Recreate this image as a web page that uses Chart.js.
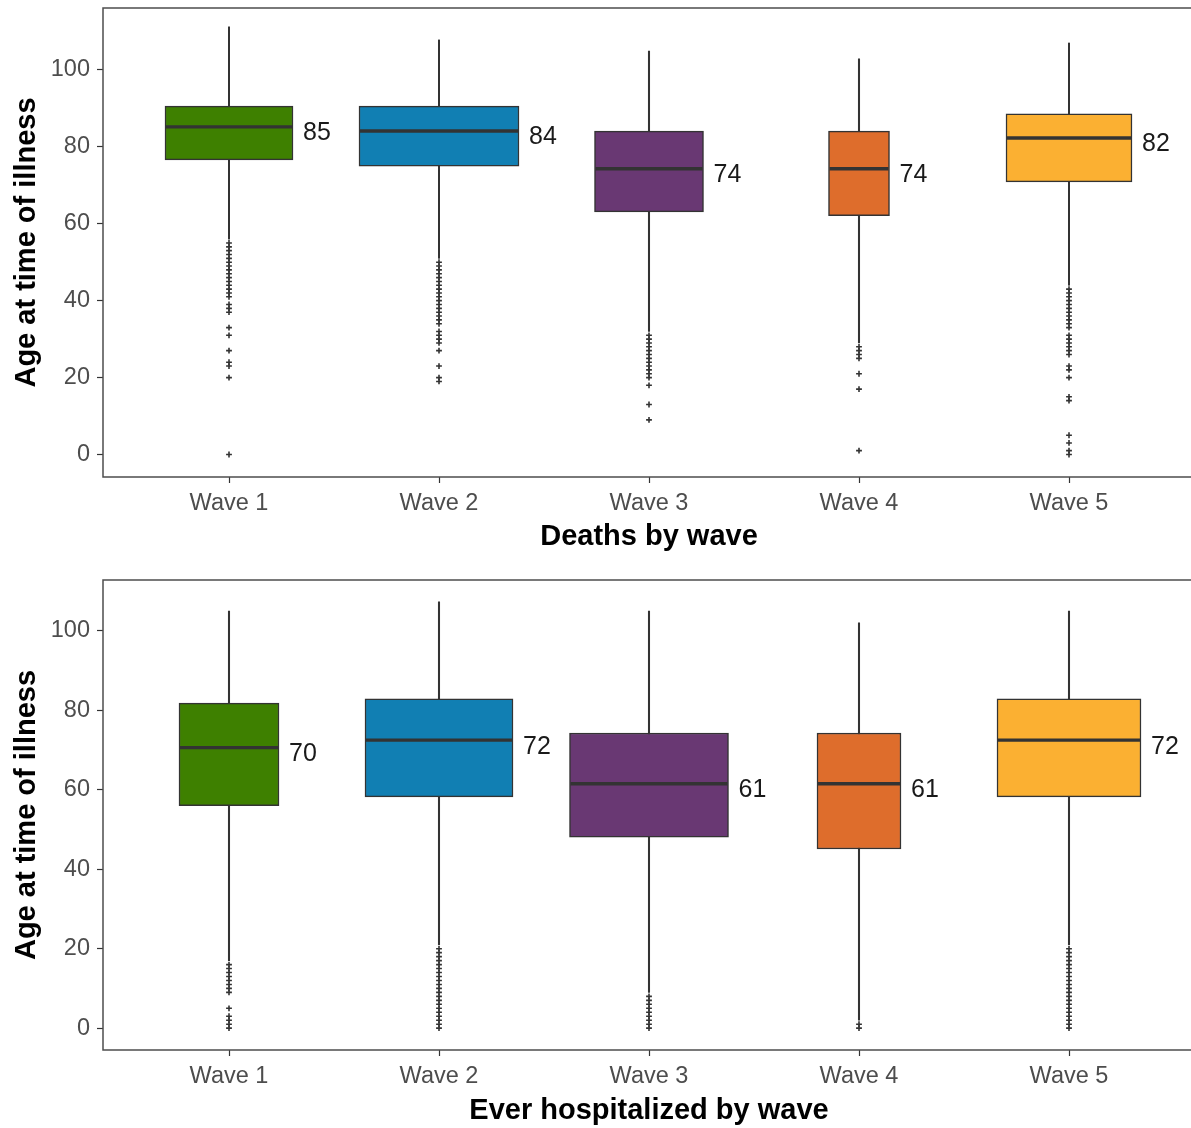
<!DOCTYPE html>
<html><head><meta charset="utf-8">
<script src="https://cdn.jsdelivr.net/npm/chart.js@4.4.1/dist/chart.umd.min.js"></script>
<style>
html,body{margin:0;padding:0;background:#fff;overflow:hidden;width:1191px;height:1128px;position:relative;}
canvas{position:absolute;left:0;}
#c1{top:0;}
#c2{top:572px;}
</style></head><body>
<canvas id="c1" width="1210" height="565" style="width:1210px;height:565px"></canvas>
<canvas id="c2" width="1210" height="558" style="width:1210px;height:558px"></canvas>
<script>
// ---------- data ----------
const waves = ['Wave 1', 'Wave 2', 'Wave 3', 'Wave 4', 'Wave 5'];
const wavePositions = [1, 2, 3, 4, 5];
const yTickValues = [0, 20, 40, 60, 80, 100];

// Deaths by wave
const deathsWhiskerLow  = [56, 51, 32, 29, 44];
const deathsQ1          = [76.6, 75.0, 63.1, 62.1, 70.9];
const deathsMedian      = [85.2, 84.1, 74.3, 74.3, 82.3];
const deathsQ3          = [90.6, 90.6, 84.1, 84.1, 88.6];
const deathsWhiskerHigh = [111.2, 107.8, 104.9, 102.9, 107.0];
const deathsMedianLabels = ['85', '84', '74', '74', '82'];
const deathsOutliers = [
  [55,54,53,52,51,50,49,48,47,46,45,44,43,42,41,39,38,37,33,31,27,24,23,20,0],
  [50,49,48,47,46,45,44,43,42,41,40,39,38,37,36,35,34,32,31,30,29,27,23,20,19],
  [31,30,29,28,27,26,25,24,23,22,21,20,18,13,9],
  [28,27,26,25,21,17,1],
  [43,42,41,40,39,38,37,36,35,34,33,31,30,29,28,27,26,23,22,20,15,14,5,3,1,0]
];

// Ever hospitalized by wave
const hospWhiskerLow  = [17, 21, 9, 2, 21];
const hospQ1          = [56.0, 58.2, 48.1, 45.1, 58.2];
const hospMedian      = [70.6, 72.5, 61.5, 61.5, 72.5];
const hospQ3          = [81.8, 82.9, 74.3, 74.3, 82.9];
const hospWhiskerHigh = [105.0, 107.3, 105.0, 102.0, 105.0];
const hospMedianLabels = ['70', '72', '61', '61', '72'];
const hospOutliers = [
  [16,15,14,13,12,11,10,9,5,3,2,1,0],
  [20,19,18,17,16,15,14,13,12,11,10,9,8,7,6,5,4,3,2,1,0],
  [8,7,6,5,4,3,2,1,0],
  [1,0],
  [20,19,18,17,16,15,14,13,12,11,10,9,8,7,6,5,4,3,2,1,0]
];

// ---------- style ----------
const waveColors = ['#3E8000', '#117FB3', '#693873', '#DE6D2C', '#FBB032'];
const deathsBoxPx = [128, 160, 109, 61, 126];
const hospBoxPx   = [100, 148, 159, 84, 144];
const FONT = '"Liberation Sans", Arial, sans-serif';
const INK = '#333333';

const panelBorder = {
  id: 'panelBorder',
  afterDatasetsDraw(chart) {
    const a = chart.chartArea, ctx = chart.ctx;
    ctx.save();
    ctx.strokeStyle = '#4d4d4d';
    ctx.lineWidth = 1.5;
    ctx.strokeRect(a.left, a.top, a.right - a.left, a.bottom - a.top);
    ctx.restore();
  }
};

function medianLabelPlugin(medians, labels, widths) {
  return {
    id: 'medianLabels',
    afterDatasetsDraw(chart) {
      const ctx = chart.ctx, xs = chart.scales.x, ys = chart.scales.y;
      ctx.save();
      ctx.font = '25px ' + FONT;
      ctx.fillStyle = '#1a1a1a';
      ctx.textAlign = 'left';
      ctx.textBaseline = 'middle';
      medians.forEach((m, i) => {
        const x = xs.getPixelForValue(wavePositions[i]) + widths[i] / 2 + 10;
        const y = ys.getPixelForValue(m) + 6.5;
        ctx.fillText(labels[i], x, y);
      });
      ctx.restore();
    }
  };
}

function makeChart(canvasId, o) {
  const datasets = [];
  datasets.push({
    type: 'bar',
    data: wavePositions.map((x, i) => ({ x, y: [o.low[i], o.high[i]] })),
    backgroundColor: INK,
    borderWidth: 0,
    barThickness: 1.4,
    grouped: false,
    order: 10
  });
  wavePositions.forEach((x, i) => {
    datasets.push({
      type: 'bar',
      data: [{ x, y: [o.q1[i], o.q3[i]] }],
      backgroundColor: waveColors[i],
      borderColor: INK,
      borderWidth: 1.5,
      borderSkipped: false,
      barThickness: o.widths[i],
      grouped: false,
      order: 5
    });
  });
  datasets.push({
    type: 'scatter',
    data: wavePositions.map((x, i) => ({ x, y: o.median[i] })),
    pointStyle: 'line',
    pointRadius: (c) => o.widths[c.dataIndex] / 2 - 1,
    pointBorderColor: INK,
    pointBorderWidth: 3.4,
    order: 2
  });
  const outPts = [];
  o.outliers.forEach((arr, i) => arr.forEach(v => outPts.push({ x: wavePositions[i], y: v })));
  datasets.push({
    type: 'scatter',
    data: outPts,
    pointStyle: 'cross',
    pointRadius: 2.9,
    pointBorderWidth: 1.6,
    pointBorderColor: INK,
    order: 1
  });

  return new Chart(document.getElementById(canvasId), {
    type: 'bar',
    data: { datasets },
    options: {
      responsive: false,
      animation: false,
      devicePixelRatio: 1,
      events: [],
      layout: { autoPadding: false, padding: { top: 8, right: 15, left: 0, bottom: 0 } },
      plugins: { legend: { display: false }, tooltip: { enabled: false } },
      scales: {
        x: {
          type: 'linear',
          min: 0.4, max: 5.6,
          offset: false,
          afterBuildTicks: s => { s.ticks = wavePositions.map(v => ({ value: v })); },
          afterFit: s => { s.height = o.xAxisHeight; s.paddingLeft = 0; s.paddingRight = 0; },
          ticks: {
            callback: v => waves[Math.round(v) - 1],
            color: '#4d4d4d',
            font: { family: FONT, size: 23.5 },
            padding: 6,
            autoSkip: false,
            maxRotation: 0
          },
          grid: { drawOnChartArea: false, offset: false, tickLength: 6, tickColor: INK, tickWidth: 1.2 },
          border: { display: false },
          title: {
            display: true, text: o.xTitle, color: '#000',
            font: { family: FONT, size: 29, weight: 'bold', lineHeight: 1.2 },
            padding: { top: 0, bottom: o.xTitlePad }
          }
        },
        y: {
          type: 'linear',
          min: o.yMin, max: o.yMax,
          afterBuildTicks: s => { s.ticks = yTickValues.map(v => ({ value: v })); },
          afterFit: s => { s.width = 103; s.paddingTop = 0; s.paddingBottom = 0; },
          ticks: { color: '#4d4d4d', font: { family: FONT, size: 23.5 }, padding: 7 },
          grid: { drawOnChartArea: false, tickLength: 6, tickColor: INK, tickWidth: 1.2 },
          border: { display: false },
          title: {
            display: true, text: 'Age at time of illness', color: '#000',
            font: { family: FONT, size: 29, weight: 'bold', lineHeight: 1.2 },
            padding: { top: 10, bottom: 0 }
          }
        }
      }
    },
    plugins: [panelBorder, medianLabelPlugin(o.median, o.labels, o.widths)]
  });
}

makeChart('c1', {
  low: deathsWhiskerLow, q1: deathsQ1, median: deathsMedian, q3: deathsQ3, high: deathsWhiskerHigh,
  labels: deathsMedianLabels, outliers: deathsOutliers, widths: deathsBoxPx,
  yMin: -5.85, yMax: 116.1, xAxisHeight: 88, xTitlePad: 11, xTitle: 'Deaths by wave'
});
makeChart('c2', {
  low: hospWhiskerLow, q1: hospQ1, median: hospMedian, q3: hospQ3, high: hospWhiskerHigh,
  labels: hospMedianLabels, outliers: hospOutliers, widths: hospBoxPx,
  yMin: -5.5, yMax: 112.8, xAxisHeight: 80, xTitlePad: 2, xTitle: 'Ever hospitalized by wave'
});
</script>
</body></html>
